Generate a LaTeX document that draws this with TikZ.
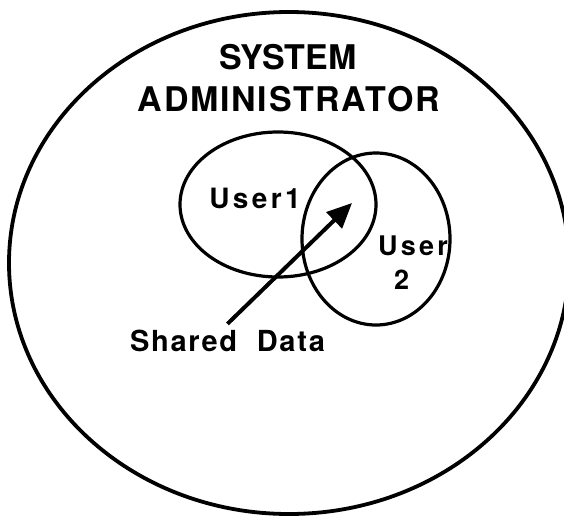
\documentclass[tikz,border=0pt]{standalone}
\usepackage{fontspec}
\usetikzlibrary{arrows.meta}
\newfontfamily\heros{TeX Gyre Heros}
\newcommand{\lblsize}[2]{\fontsize{#1}{#1}\selectfont\addfontfeature{LetterSpace=#2}}

\begin{document}
\begin{tikzpicture}[x=1pt, y=-1pt,
  ring/.style={line width=3.2pt},
  lbl/.style={inner sep=0pt, anchor=base}]
\useasboundingbox (0,0) rectangle (564,516);

% outer ring and the two users
\draw[ring, line width=3.8pt] (289,263) ellipse (280 and 251);
\draw[ring] (278,204.5) ellipse (98 and 72.5);
\draw[ring] (376,239) ellipse (74 and 86);

\node[lbl, font=\heros\bfseries\lblsize{34}{0}] (sys) at (288,70) {SYSTEM};
\node[lbl, font=\heros\bfseries\lblsize{34}{5}] (admin) at (289,111) {ADMINISTRATOR};

\node[lbl, font=\heros\bfseries\lblsize{28}{12}] (userA) at (255,208) {User1};
\node[lbl, font=\heros\bfseries\lblsize{27}{12}] (userB) at (413,255) {User};
\node[lbl, font=\heros\bfseries\lblsize{27}{0}] (userBn) at (401.5,289) {2};

\node[lbl, font=\heros\bfseries\lblsize{29}{6}] (shared) at (227.5,351.5) {Shared~~Data};

\coordinate (tip) at (352,203);
\draw[line width=4pt, -{Triangle[length=25pt, width=22pt]}] ([yshift=6pt]shared.north) -- (tip);

\end{tikzpicture}
\end{document}
